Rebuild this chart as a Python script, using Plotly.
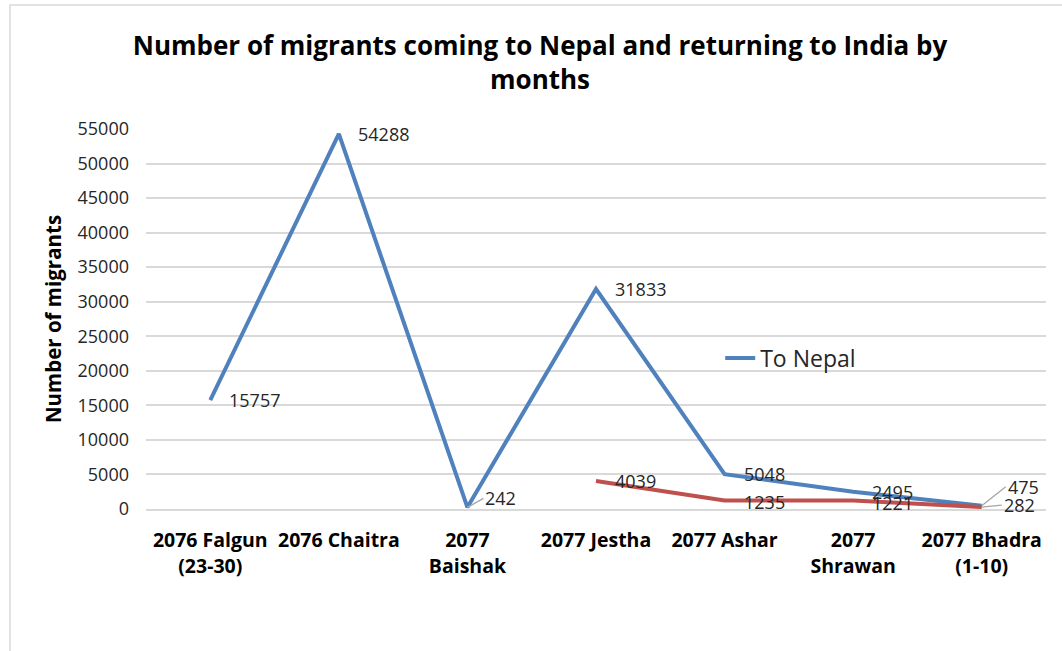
import plotly.graph_objects as go

categories = ["2076 Falgun<br>(23-30)", "2076 Chaitra", "2077<br>Baishak", "2077 Jestha",
              "2077 Ashar", "2077<br>Shrawan", "2077 Bhadra<br>(1-10)"]
to_nepal = [15757, 54288, 242, 31833, 5048, 2495, 475]
to_india = [None, None, None, 4039, 1235, 1221, 282]

BLUE = "#4F81BD"
RED = "#C0504D"
FONT = "Open Sans"
LBL = dict(family=FONT, size=18, color="#262626")

fig = go.Figure()
fig.add_trace(go.Scatter(x=categories, y=to_nepal, mode="lines", name="To Nepal",
                         line=dict(color=BLUE, width=4), showlegend=True))
fig.add_trace(go.Scatter(x=categories, y=to_india, mode="lines", name="To India",
                         line=dict(color=RED, width=4), showlegend=False))

# data labels (with leader lines where the original had them)
leaders_nepal = {2: (16, -9), 6: (24, -19)}
for i, v in enumerate(to_nepal):
    if i in leaders_nepal:
        ax, ay = leaders_nepal[i]
        fig.add_annotation(x=categories[i], y=v, text=str(v), showarrow=True, arrowhead=0,
                           arrowcolor="#A6A6A6", arrowwidth=1.3, ax=ax, ay=ay,
                           xanchor="left", font=LBL)
    else:
        fig.add_annotation(x=categories[i], y=v, text=str(v), showarrow=False, xanchor="left",
                           xshift=17, yshift=0, font=LBL)
leaders_india = {6: (20, -2)}
for i, v in enumerate(to_india):
    if v is None:
        continue
    if i in leaders_india:
        ax, ay = leaders_india[i]
        fig.add_annotation(x=categories[i], y=v, text=str(v), showarrow=True, arrowhead=0,
                           arrowcolor="#A6A6A6", arrowwidth=1.3, ax=ax, ay=ay,
                           xanchor="left", font=LBL)
    else:
        fig.add_annotation(x=categories[i], y=v, text=str(v), showarrow=False, xanchor="left",
                           xshift=17, yshift=-2 if i != 3 else 0, font=LBL)

fig.add_shape(type="rect", xref="paper", yref="paper", x0=-0.1511, x1=1.1, y0=-0.6, y1=1.3263,
              line=dict(color="#D9D9D9", width=1.5), fillcolor="rgba(0,0,0,0)", layer="below")

fig.update_layout(
    width=1062, height=651,
    margin=dict(l=146, r=16, t=129, b=142),
    paper_bgcolor="white", plot_bgcolor="white",
    font=dict(family=FONT, color="#262626"),
    title=dict(text="<b>Number of migrants coming to Nepal and returning to India by<br>months</b>",
               x=0.5085, xanchor="center", y=0.915, yanchor="middle",
               font=dict(family=FONT, size=26, color="black")),
    legend=dict(x=0.638, y=0.397, xanchor="left", yanchor="middle", bgcolor="rgba(0,0,0,0)",
                font=dict(family=FONT, size=23, color="#262626")),
    showlegend=True,
)
fig.update_xaxes(showgrid=False, showline=True, linecolor="#D9D9D9", linewidth=1.5,
                 range=[-0.5, 6.5],
                 tickfont=dict(family=FONT, size=19.5, color="black"), ticks="",
                 tickangle=0, ticklabelstandoff=13,
                 tickvals=categories,
                 ticktext=["<b>" + c.replace("<br>", "</b><br><b>") + "</b>" for c in categories])
fig.update_yaxes(range=[0, 55000], dtick=5000, tickformat="d", showgrid=True, gridcolor="#D9D9D9",
                 gridwidth=1.5, zeroline=False, showline=False,
                 tickfont=dict(family=FONT, size=18, color="#262626"),
                 ticklabelstandoff=16,
                 title=dict(text="<b>Number of migrants</b>", font=dict(family=FONT, size=20.5, color="black"),
                            standoff=10))

fig.write_html("out.html")
